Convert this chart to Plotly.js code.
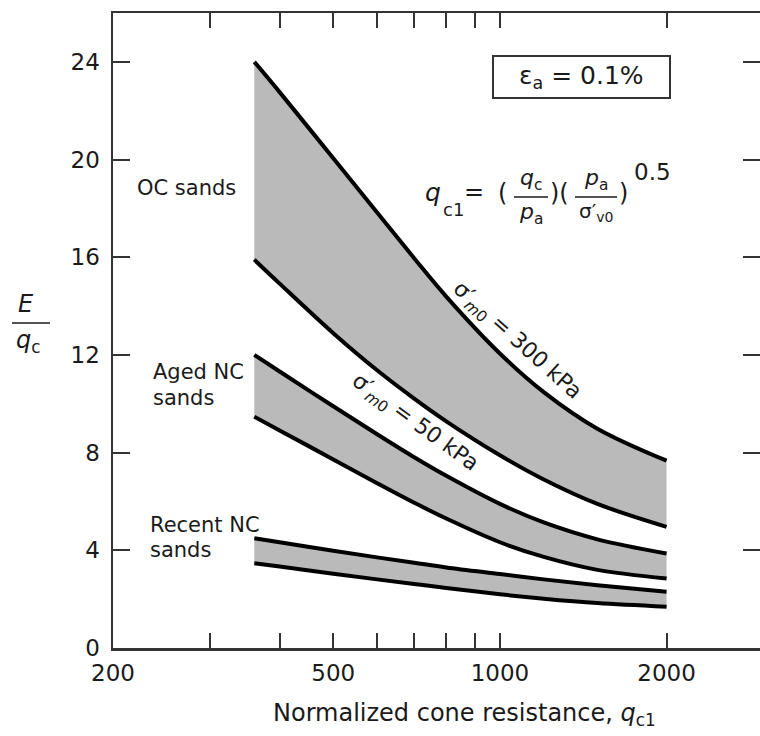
<!DOCTYPE html>
<html>
<head>
<meta charset="utf-8">
<script src="https://cdn.plot.ly/plotly-3.0.1.min.js"></script>
<style>html,body{margin:0;padding:0;background:#fff;overflow:hidden}</style>
</head>
<body>
<div id="chart" style="width:760px;height:736px"></div>
<script>
// ---- data ----
const qc1 = [360, 400, 500, 600, 700, 800, 1000, 1200, 1500, 2000];
const ocUpper = [24.0, 22.76, 20.05, 17.83, 15.96, 14.39, 12.06, 10.48, 8.98, 7.67];
const ocLower = [15.9, 14.92, 12.89, 11.37, 10.21, 9.28, 7.89, 6.90, 5.90, 4.96];
const agedUpper = [12.0, 11.32, 9.90, 8.75, 7.81, 7.05, 5.90, 5.14, 4.45, 3.87];
const agedLower = [9.47, 8.91, 7.72, 6.75, 5.95, 5.30, 4.33, 3.73, 3.20, 2.85];
const recentUpper = [4.49, 4.33, 3.98, 3.71, 3.49, 3.30, 3.03, 2.81, 2.57, 2.30];
const recentLower = [3.47, 3.34, 3.04, 2.81, 2.62, 2.46, 2.20, 2.02, 1.84, 1.69];

const xTickVals = [200, 500, 1000, 2000];
const xTickText = ['200', '500', '1000', '2000'];
const xMinorVals = [300, 400, 600, 700, 800, 900];
const yTickVals = [0, 4, 8, 12, 16, 20, 24];

// ---- layout helpers (pixel -> paper) ----
const L = 113, T = 13, W = 647, H = 635;
const X = px => (px - L) / W;
const Y = py => (T + H - py) / H;

const FONT = 'DejaVu Sans, Liberation Sans, Arial, sans-serif';
const fill = '#bababa';

function band(lower, upper) {
  return [
    {x: qc1, y: lower, mode: 'lines', line: {color: '#000', width: 4, shape: 'spline', smoothing: 1}, hoverinfo: 'skip'},
    {x: qc1, y: upper, mode: 'lines', fill: 'tonexty', fillcolor: fill,
     line: {color: '#000', width: 4, shape: 'spline', smoothing: 1}, hoverinfo: 'skip'}
  ];
}
const traces = [].concat(band(ocLower, ocUpper), band(agedLower, agedUpper), band(recentLower, recentUpper));

function txt(text, px, py, size, opts) {
  return Object.assign({text: text, x: X(px), y: Y(py), xref: 'paper', yref: 'paper',
    showarrow: false, xanchor: 'center', yanchor: 'middle',
    font: {family: FONT, size: size, color: '#1a1a1a'}}, opts || {});
}

const annotations = [
  txt('OC sands', 135, 188, 21, {xanchor: 'left'}),
  txt('Aged NC', 151, 372, 21, {xanchor: 'left'}),
  txt('sands', 151, 398, 21, {xanchor: 'left'}),
  txt('Recent NC', 148, 525, 21, {xanchor: 'left'}),
  txt('sands', 148, 550, 21, {xanchor: 'left'}),
  // box label
  txt('ε<sub>a</sub> = 0.1%', 581, 77, 25),
  // formula
  txt('<i>q</i>', 433, 192, 25),
  txt('c1', 453, 209, 18),
  txt('=', 474, 192, 24),
  txt('(', 502, 193, 24),
  txt('<i>q</i><sub>c</sub>', 531, 179, 22),
  txt('<i>p</i><sub>a</sub>', 531, 213, 22),
  txt(')(', 559, 193, 24),
  txt('<i>p</i><sub>a</sub>', 596, 180, 22),
  txt('σ′<sub>v0</sub>', 596, 212, 20),
  txt(')', 623, 193, 24),
  txt('0.5', 652, 172, 23),
  // rotated curve labels
  txt('σ′<sub><i>m</i>0</sub> = 300 kPa', 517, 341, 22, {textangle: 42}),
  txt('σ′<sub><i>m</i>0</sub> = 50 kPa', 415, 423, 22, {textangle: 36}),
  // axis titles
  txt('<i>E</i>', 26, 304, 24),
  txt('<i>q</i><sub>c</sub>', 28, 342, 24),
  txt('Normalized cone resistance, <i>q</i><sub>c1</sub>', 464, 715, 24)
];

const shapes = [
  {type: 'rect', xref: 'paper', yref: 'paper', x0: X(493), x1: X(670), y0: Y(98), y1: Y(56),
   line: {color: '#333', width: 2}},
  {type: 'line', xref: 'paper', yref: 'paper', x0: X(514), x1: X(548), y0: Y(197), y1: Y(197),
   line: {color: '#1a1a1a', width: 1.5}},
  {type: 'line', xref: 'paper', yref: 'paper', x0: X(575), x1: X(617), y0: Y(197), y1: Y(197),
   line: {color: '#1a1a1a', width: 1.5}},
  {type: 'line', xref: 'paper', yref: 'paper', x0: X(12), x1: X(50), y0: Y(323), y1: Y(323),
   line: {color: '#1a1a1a', width: 1.5}}
];

const layout = {
  width: 760, height: 736,
  margin: {l: L, r: 0, t: T, b: 736 - T - H},
  paper_bgcolor: '#fff', plot_bgcolor: '#fff',
  showlegend: false,
  xaxis: {
    type: 'log', range: [Math.log10(200), Math.log10(2950)],
    tickmode: 'array', tickvals: xTickVals, ticktext: xTickText,
    ticks: 'inside', ticklen: 15, tickwidth: 2, tickcolor: '#333',
    minor: {tickmode: 'array', tickvals: xMinorVals, ticks: 'inside', ticklen: 15, tickwidth: 2, tickcolor: '#333', showgrid: false},
    showline: true, linewidth: 2.5, linecolor: '#333', mirror: 'ticks',
    showgrid: false, zeroline: false, ticklabelstandoff: 3,
    tickfont: {family: FONT, size: 23, color: '#1a1a1a'}
  },
  yaxis: {
    range: [0, 26], tickmode: 'array', tickvals: yTickVals,
    ticks: 'inside', ticklen: 17, tickwidth: 2, tickcolor: '#333',
    showline: true, linewidth: 2.5, linecolor: '#333', mirror: 'ticks',
    showgrid: false, zeroline: false, ticklabelstandoff: 6,
    tickfont: {family: FONT, size: 23, color: '#1a1a1a'}
  },
  annotations: annotations,
  shapes: shapes
};

Plotly.newPlot('chart', traces, layout, {staticPlot: true, displayModeBar: false});
</script>
</body>
</html>
